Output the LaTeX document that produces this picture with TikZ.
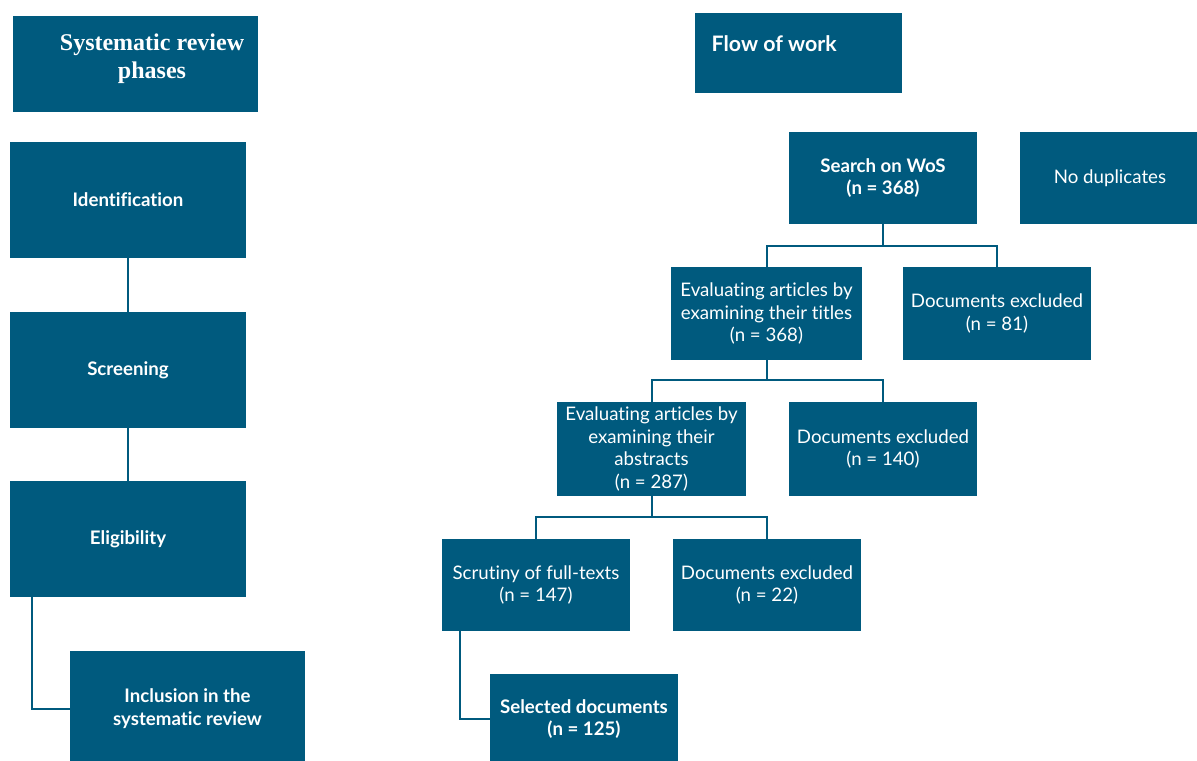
\documentclass[tikz,border=0pt]{standalone}
\usepackage{fontspec}
\setmainfont{Liberation Serif}
\newfontfamily\sansf[Ligatures={NoCommon}]{Lato}
\definecolor{boxblue}{RGB}{0,90,126}
\begin{document}
\begin{tikzpicture}[x=0.75pt,y=-0.75pt,
  box/.style={fill=boxblue,draw=none,text=white,align=center,inner sep=0pt,
    font=\sansf\fontsize{14}{17}\selectfont},
  boldbox/.style={box,font=\sansf\bfseries\fontsize{14}{17}\selectfont},
  conn/.style={draw=boxblue,line width=1.5pt},
  wh/.style n args={2}{minimum width=#1*0.75pt,minimum height=#2*0.75pt}]
\useasboundingbox (0,0) rectangle (1197,761);
\fill[white] (0,0) rectangle (1197,761);
\begin{scope}
\clip (0,0) rectangle (1197,761);
% left column
\node[box,wh={245}{96}] (title) at (135.5,64) {};
\node[text=white,align=center,font=\rmfamily\bfseries\fontsize{18}{21}\selectfont] (titletext) at (152,59) {Systematic review\\phases};
\node[boldbox,wh={236}{116}] (ident) at (128,200) {Identification};
\node[boldbox,wh={236}{116}] (screen) at (128,370) {Screening};
\node[boldbox,wh={236}{116}] (elig) at (128,539) {Eligibility};
\node[boldbox,wh={235}{115}] (incl) at (187.5,708.5) {Inclusion in the\\systematic review};
% right column
\node[box,wh={207}{80}] (flow) at (798.5,53) {};
\node[anchor=west,text=white,font=\sansf\bfseries\fontsize{16}{19}\selectfont] (flowtext) at (707,44) {Flow of work};
\node[boldbox,wh={188}{92}] (search) at (883,178) {Search on WoS\\(n = 368)};
\node[box,wh={180}{92}] (nodup) at (1110,178) {No duplicates};
\node[box,wh={191}{93}] (titles) at (766.5,313.5) {Evaluating articles by\\examining their titles\\(n = 368)};
\node[box,wh={188}{93}] (ex81) at (997,313.5) {Documents excluded\\(n = 81)};
\node[box,wh={189}{94}] (abstr) at (651.5,449) {Evaluating articles by\\examining their\\abstracts\\(n = 287)};
\node[box,wh={188}{94}] (ex140) at (883,449) {Documents excluded\\(n = 140)};
\node[box,wh={188}{92}] (scrut) at (536,585) {Scrutiny of full-texts\\(n = 147)};
\node[box,wh={188}{92}] (ex22) at (767,585) {Documents excluded\\(n = 22)};
\node[boldbox,wh={188}{90}] (sel) at (584,719) {Selected documents\\(n = 125)};
% connectors
\draw[conn] (ident.south) -- (screen.north);
\draw[conn] (screen.south) -- (elig.north);
\draw[conn] ([xshift=22*0.75pt]elig.south west) |- (incl.west);
\draw[conn] (search.south) -- ++(0,22) coordinate (s1);
\draw[conn] (titles.north) |- (s1) -| (ex81.north);
\draw[conn] (titles.south) -- ++(0,20) coordinate (s2);
\draw[conn] (abstr.north) |- (s2) -| (ex140.north);
\draw[conn] (abstr.south) -- ++(0,21) coordinate (s3);
\draw[conn] (scrut.north) |- (s3) -| (ex22.north);
\draw[conn] ([xshift=18*0.75pt]scrut.south west) |- (sel.west);
\end{scope}
\end{tikzpicture}
\end{document}
